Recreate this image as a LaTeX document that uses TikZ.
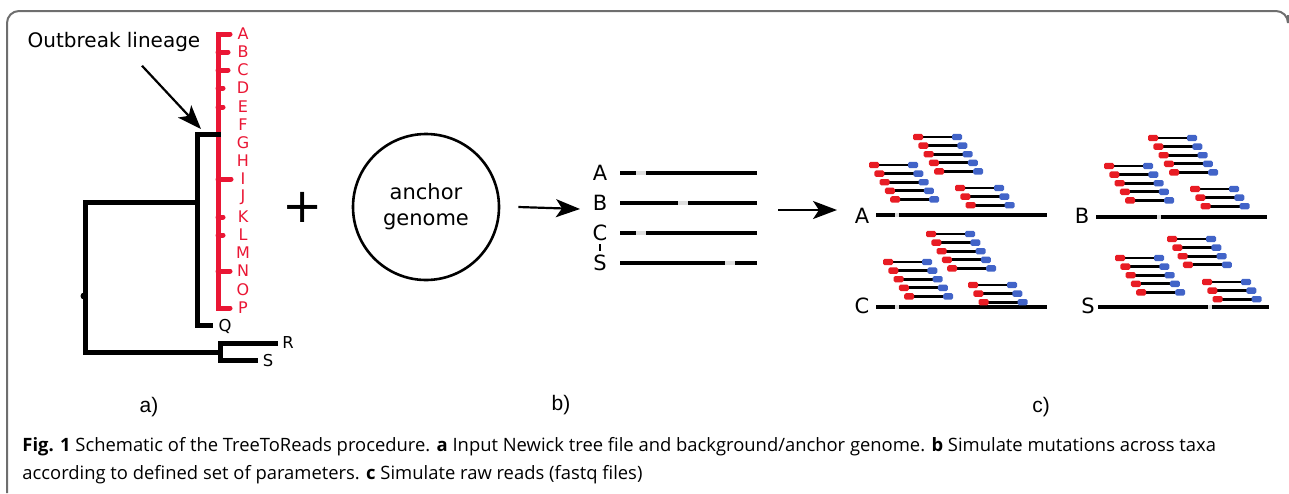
\documentclass[tikz,border=0pt]{standalone}
\usepackage{fontspec}
\setmainfont{DejaVu Sans}
\newfontfamily\capfont{Open Sans}
\newfontfamily\panfont{Liberation Sans}
\usepackage{tikz}
\usetikzlibrary{arrows.meta, positioning, shapes}
\definecolor{treered}{RGB}{234,22,52}
\definecolor{readred}{RGB}{232,28,36}
\definecolor{readblue}{RGB}{66,100,200}
\definecolor{framegray}{RGB}{110,110,110}
\definecolor{snpgray}{RGB}{222,222,222}
\tikzstyle{branch} = [line width=2.5pt, line cap=rect, line join=miter]
\tikzstyle{obranch} = [branch, treered, line cap=round]
\tikzstyle{tip} = [inner sep=0pt, text=treered, font=\fontsize{8}{8}\selectfont]
\tikzstyle{taxon} = [inner sep=0pt, font=\fontsize{8.2}{8.2}\selectfont]
\tikzstyle{arrow} = [line width=1.1pt, -{Stealth[length=12pt, width=9pt, inset=3pt]}]
\tikzstyle{genome} = [line width=2pt]
\tikzstyle{snp} = [line width=2pt, snpgray]
\tikzstyle{seqlab} = [inner sep=0pt, font=\fontsize{10.5}{10.5}\selectfont]
\tikzstyle{panel} = [inner sep=0pt, font=\panfont\fontsize{10.5}{10.5}\selectfont]
\tikzstyle{caption} = [inner sep=0pt, font=\capfont\fontsize{9.2}{9.2}\selectfont]
\newcommand{\readstack}[3]{%
  \foreach \k in {1,...,#3}{%
    \pgfmathsetmacro{\rx}{#1+5.3*(\k-1)}
    \pgfmathsetmacro{\ry}{#2+8.6*(\k-1)}
    \draw[line width=1.4pt] (\rx+9,\ry) -- (\rx+40,\ry);
    \fill[readred, rounded corners=0.8pt] (\rx,\ry-3.2) rectangle (\rx+10,\ry+3.2);
    \fill[readblue, rounded corners=0.8pt] (\rx+39,\ry-3.2) rectangle (\rx+49,\ry+3.2);
  }%
}

\begin{document}
\begin{tikzpicture}[x=0.5pt, y=-0.5pt]
\useasboundingbox (0,0) rectangle (1289,493);
\draw[framegray, line width=1pt, rounded corners=6pt] (7,493) -- (7,11) -- (1288,11) -- (1288,15);

\draw[obranch] (230,34) -- (218,34) -- (218,308) -- (230,308);
\foreach \y/\l in {52/10, 70/10, 88/5, 107/5, 179/13, 217/5, 235/5, 271/12}
  \draw[obranch] (218,\y) -- ++(\l,0);
\foreach \t/\y in {A/34, B/52, C/70, D/88, E/107, F/125, G/143, H/161, I/179, J/197, K/217, L/235, M/253, N/271, O/290, P/308}
  \node(tip\t)[tip] at (243,\y) {\t};

\draw[branch] (218,134) -- (197,134) -- (197,325) -- (210,325);
\draw[branch] (197,202) -- (85,202) -- (85,352) -- (220,352);
\draw[branch] (275,343) -- (220,343) -- (220,360) -- (255,360);
\fill (84,296) circle (3.5);
\node(tipQ)[taxon] at (225,326) {Q};
\node(tipR)[taxon] at (288,343) {R};
\node(tipS)[taxon] at (268,361) {S};

\node(outbreak)[font=\fontsize{10}{10}\selectfont] at (114,42) {Outbreak lineage};
\coordinate(olroot) at (201,129);
\draw[arrow] ([shift={(28,7)}]outbreak.south) -- (olroot);

\node(plus)[inner sep=0pt, font=\fontsize{24}{24}\selectfont] at (303,207) {+};

\node(anchor)[circle, draw, line width=1.3pt, minimum size=73pt, align=center,
  font=\fontsize{10.5}{13}\selectfont] at (426,207) {anchor\\genome};
\coordinate(bend) at (580,209);
\draw[arrow] ([xshift=9pt]anchor.east) -- (bend);

\foreach \n/\y/\g in {A/173/636, B/203/678, C/233/636, S/263/725}{
  \node(b\n)[seqlab] at (600,\y) {\n};
  \draw[genome] (620,\y) -- (757,\y);
  \draw[snp] (\g,\y) -- (\g+10,\y);
}
\draw[line width=0.8pt] (600,244) -- (600,251);

\coordinate(cstart) at (778,210);
\coordinate(cend) at (837,210);
\draw[arrow] (cstart) -- (cend);

\foreach \n/\lx/\ly/\x/\y/\g in {A/862/216/876/215/895, B/1082/216/1096/217/1157, C/862/306/876/307/895, S/1088/306/1098/307/1208}{
  \node(c\n)[seqlab] at (\lx,\ly) {\n};
  \draw[genome] (\x,\y) -- (\x+171,\y);
  \draw[snp] (\g,\y) -- (\g+4,\y);
}
\readstack{869}{165}{5}
\readstack{913}{137}{5}
\readstack{955}{188}{3}
\readstack{1104}{166}{5}
\readstack{1148}{138}{5}
\readstack{1190}{189}{3}
\readstack{883}{262}{5}
\readstack{926}{234}{5}
\readstack{968}{285}{3}
\readstack{1115}{258}{5}
\readstack{1167}{239}{4}
\readstack{1202}{282}{3}

\node(pa)[panel] at (149,407) {a)};
\node(pb)[panel] at (561,405) {b)};
\node(pc)[panel] at (1041,407) {c)};

\node(cap1)[caption, anchor=base west] at (22,451) {\textbf{Fig. 1} Schematic of the TreeToReads procedure. \textbf{a} Input Newick tree file and background/anchor genome. \textbf{b} Simulate mutations across taxa};
\node(cap2)[caption, anchor=base west] at (22,479) {according to defined set of parameters. \textbf{c} Simulate raw reads (fastq files)};
\end{tikzpicture}
\end{document}
